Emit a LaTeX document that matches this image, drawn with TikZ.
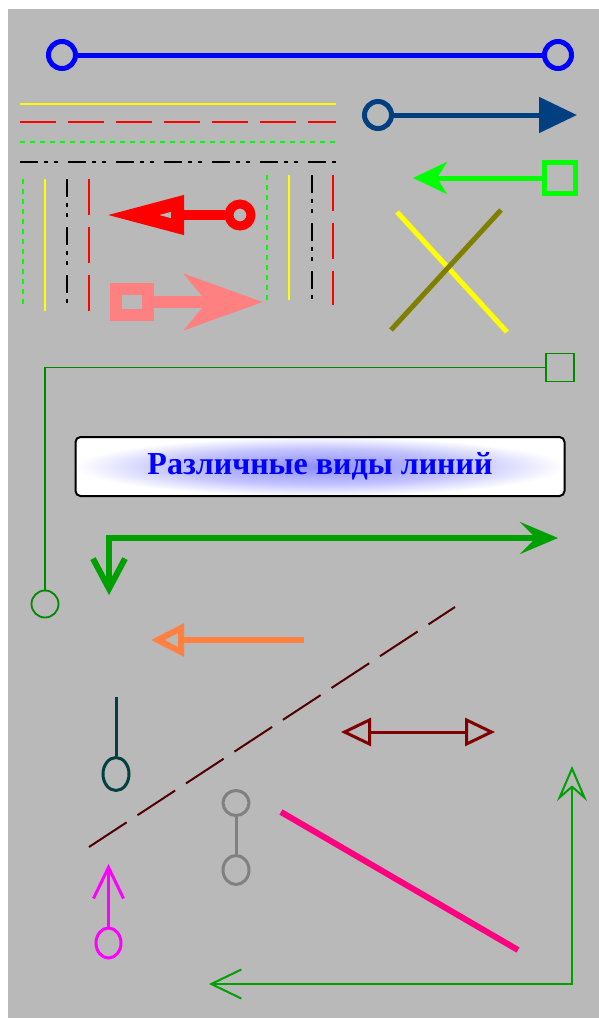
\documentclass[tikz,border=0pt]{standalone}
\usepackage{fontspec}
\setmainfont{Liberation Serif}
\usetikzlibrary{arrows.meta,shapes.geometric}

\definecolor{bgray}{RGB}{185,185,185}
\definecolor{lineblue}{RGB}{0,0,255}
\definecolor{navyblue}{RGB}{0,64,128}
\definecolor{limegreen}{RGB}{0,255,0}
\definecolor{brightyellow}{RGB}{255,255,0}
\definecolor{salmonred}{RGB}{255,128,128}
\definecolor{olivex}{RGB}{128,128,0}
\definecolor{darkgreen}{RGB}{0,136,0}
\definecolor{arrowgreen}{RGB}{0,160,0}
\definecolor{orangeline}{RGB}{255,128,64}
\definecolor{darkmaroon}{RGB}{80,0,0}
\definecolor{tealdark}{RGB}{0,64,64}
\definecolor{maroonline}{RGB}{128,0,0}
\definecolor{pinkline}{RGB}{255,0,128}
\definecolor{magentaline}{RGB}{255,0,255}
\definecolor{grayline}{RGB}{128,128,128}
\definecolor{glowblue}{RGB}{140,140,255}
\definecolor{glowmid}{RGB}{195,195,255}

\pgfdeclareradialshading{titleglow}{\pgfpoint{0bp}{0bp}}{color(0bp)=(glowblue);color(15bp)=(glowmid);color(25bp)=(white);color(50bp)=(white)}

\begin{document}
\begin{tikzpicture}[
    x=1pt,y=-1pt,
    ring/.style={circle,draw,inner sep=0pt,minimum size=#1},
    oval/.style 2 args={ellipse,draw,inner sep=0pt,minimum width=#1,minimum height=#2},
    sqbox/.style={rectangle,draw,inner sep=0pt,minimum size=#1},
    solidy/.style={brightyellow,line width=2pt},
    dashr/.style={red,line width=2.5pt,dash pattern=on 36pt off 12pt},
    dotg/.style={limegreen,line width=2.5pt,dash pattern=on 5pt off 5pt},
    dashdotk/.style={black,line width=2.5pt,dash pattern=on 18pt off 6pt on 4pt off 6pt on 4pt off 10pt}
]

\useasboundingbox (0,0) rectangle (599,1018);
\fill[white] (0,0) rectangle (599,1018);
\fill[bgray] (8,9) rectangle (599,1018);

% blue line with rings
\node[ring=27pt,lineblue,line width=5pt] (b1) at (62,55) {};
\node[ring=27pt,lineblue,line width=5pt] (b2) at (558,55) {};
\draw[lineblue,line width=5pt] (b1) -- (b2);

% line samples
\draw[solidy] (20,104) -- (336,104);
\draw[dashr] (20,122) -- (336,122);
\draw[dotg] (20,142) -- (336,142);
\draw[dashdotk] (20,162) -- (336,162);

\draw[dotg] (23,179) -- (23,305);
\draw[solidy] (45,179) -- (45,311);
\draw[dashdotk] (67,179) -- (67,305);
\draw[dashr] (89,179) -- (89,311);
\draw[dotg] (267,175) -- (267,300);
\draw[solidy] (289,175) -- (289,300);
\draw[dashdotk] (312,175) -- (312,300);
\draw[dashr] (333,175) -- (333,305);

% navy arrow
\node[ring=27pt,navyblue,line width=5pt] (db) at (378,115) {};
\coordinate (dbtip) at (577,115);
\draw[navyblue,line width=5pt,-{Triangle[length=38pt,width=35pt]}] (db) -- (dbtip);

% lime arrow
\node[sqbox=31pt,limegreen,line width=5pt] (ls) at (560,178) {};
\coordinate (lstip) at (413,178);
\draw[limegreen,line width=5pt,-{Stealth[length=34pt,width=32pt,inset=10pt]}] (ls) -- (lstip);

% red arrow
\node[ring=22pt,red,line width=9pt] (rc) at (240,215) {};
\coordinate (rtip) at (104,215);
\draw[red,line width=10pt,-{Triangle[open,length=80pt,width=36pt,line width=13pt]}] (rc) -- (rtip);

% salmon arrow
\node[rectangle,draw,salmonred,line width=12pt,minimum width=32pt,minimum height=26pt,inner sep=0pt] (sq) at (132,302) {};
\coordinate (sqtip) at (263,302);
\draw[salmonred,line width=12pt,-{Stealth[open,length=78pt,width=55pt,inset=22pt,line width=17pt]}] (sq) -- (sqtip);

% cross
\coordinate (ya) at (397,212);
\coordinate (yb) at (507,332);
\coordinate (oa) at (501,210);
\coordinate (ob) at (391,330);
\draw[brightyellow,line width=5pt] (ya) -- (yb);
\draw[olivex,line width=5pt] (oa) -- (ob);

% thin green connector
\node[ring=27pt,darkgreen,line width=1.8pt] (gc) at (45,604) {};
\node[sqbox=28pt,darkgreen,line width=1.8pt] (gs) at (560,367.5) {};
\draw[darkgreen,line width=1.8pt] (gc) |- (gs);

% title
\node[draw,line width=2pt,rounded corners=5pt,shade,shading=titleglow,
      minimum width=489pt,minimum height=59pt,
      font=\fontsize{32}{38}\selectfont\bfseries,text=lineblue] (title) at (320,466.5) {Различные виды линий};

% thick green elbow
\coordinate (tgd) at (109,595);
\coordinate (tgr) at (558,538);
\draw[arrowgreen,line width=6pt,{Straight Barb[length=30pt,width=32pt]}-{Stealth[open,length=38pt,width=32pt,inset=16pt,line width=8pt]}] (tgd) |- (tgr);

% orange arrow
\coordinate (ora) at (304,640);
\coordinate (orb) at (151,640);
\draw[orangeline,line width=6pt,-{Triangle[open,length=33pt,width=32pt]}] (ora) -- (orb);

% dashed diagonal
\coordinate (dla) at (89,847);
\coordinate (dlb) at (455,607);
\draw[darkmaroon,line width=2pt,dash pattern=on 45pt off 13pt] (dla) -- (dlb);

% teal stick
\coordinate (tt) at (116,697);
\node[oval={26pt}{33pt},tealdark,line width=3pt] (te) at (116,774) {};
\draw[tealdark,line width=3pt] (tt) -- (te);

% maroon double arrow
\coordinate (mra) at (341,732);
\coordinate (mrb) at (495,732);
\draw[maroonline,line width=3pt,{Triangle[open,length=30pt,width=28pt]}-{Triangle[open,length=30pt,width=28pt]}] (mra) -- (mrb);

% gray dumbbell
\node[oval={26pt}{25pt},grayline,line width=3pt] (gy1) at (236,803) {};
\node[oval={26pt}{29pt},grayline,line width=3pt] (gy2) at (236,870) {};
\draw[grayline,line width=3pt] (gy1) -- (gy2);

% pink line
\coordinate (pka) at (281,812);
\coordinate (pkb) at (518,950);
\draw[pinkline,line width=6pt] (pka) -- (pkb);

% magenta arrow
\node[oval={25pt}{30pt},magentaline,line width=3pt] (mg) at (108.5,943) {};
\coordinate (mgtip) at (108.5,864);
\draw[magentaline,line width=3pt,-{Straight Barb[length=31pt,width=30pt]}] (mg) -- (mgtip);

% green corner arrows
\coordinate (lga) at (209,984);
\coordinate (lgc) at (572,984);
\coordinate (lgb) at (572,766);
\draw[arrowgreen,line width=2pt,{Straight Barb[length=30pt,width=29pt]}-{Stealth[open,length=35pt,width=30pt,inset=13pt]}] (lga) -- (lgc) -- (lgb);

\end{tikzpicture}
\end{document}
